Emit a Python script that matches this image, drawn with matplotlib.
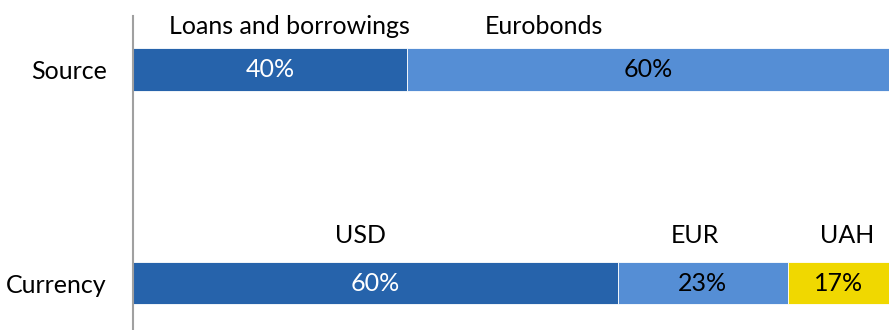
import matplotlib
matplotlib.use("Agg")
import matplotlib.pyplot as plt
import numpy as np

plt.rcParams['font.family'] = ['Lato', 'DejaVu Sans']

# categories (top to bottom) and their segments
categories = ['Source', 'Currency']
source_names = ['Loans and borrowings', 'Eurobonds']
source_shares = [0.362, 0.638]          # bar lengths as drawn
source_labels = ['40%', '60%']
currency_names = ['USD', 'EUR', 'UAH']
currency_shares = [0.641, 0.225, 0.134]
currency_labels = ['60%', '23%', '17%']

dark = '#2663AB'
light = '#558ED5'
yellow = '#F0D800'

rows = [
    (1, source_names, source_shares, source_labels, [dark, light], ['white', 'black'],
     [20, -104], 43),
    (0, currency_names, currency_shares, currency_labels, [dark, light, yellow],
     ['white', 'black', 'black'], [-15, -8, 9], 48),
]

fs = 18
fig = plt.figure(figsize=(8.89, 3.30), dpi=100)
ax = fig.add_axes([133 / 889, 0, 1 - 133 / 889, 1 - 16 / 330])

px = 0.72  # pixels -> points
for y, names, shares, labels, colors, tcolors, dx, dy in rows:
    left = 0
    for name, w, lab, c, tc, ox in zip(names, shares, labels, colors, tcolors, dx):
        ax.barh(y, w, left=left, height=0.2, color=c, edgecolor='white', linewidth=0.6)
        cx = left + w / 2
        ax.text(cx, y, lab, ha='center', va='center', color=tc, fontsize=fs)
        ax.annotate(name, (cx, y), xytext=(ox * px, dy * px), textcoords='offset points',
                    ha='center', va='center', fontsize=fs, color='black')
        left += w

ax.set_xlim(0, 1)
ax.set_ylim(-0.22, 1.25)
ax.set_yticks([1, 0])
ax.set_yticklabels(categories, fontsize=fs)
ax.tick_params(axis='y', length=0, pad=19)
ax.set_xticks([])
for s in ['top', 'right', 'bottom']:
    ax.spines[s].set_visible(False)
ax.spines['left'].set_color('#A0A0A0')
ax.spines['left'].set_linewidth(1.5)

fig.savefig('out.png', dpi=100)
